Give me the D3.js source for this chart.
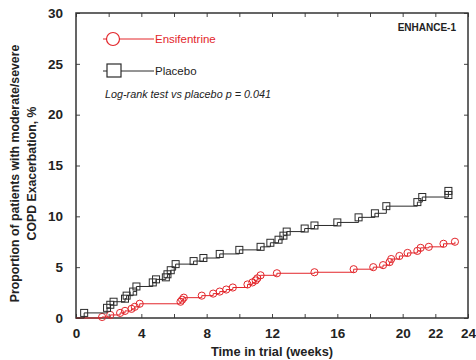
<!DOCTYPE html>
<html>
<head>
<meta charset="utf-8">
<script src="https://cdn.jsdelivr.net/npm/d3@7"></script>
<style>
body{margin:0;background:#fff;}
text{font-family:"Liberation Sans",Arial,sans-serif;}
</style>
</head>
<body>
<div id="chart"></div>
<script>
// data (weeks, %)
var placeboT = [0.5,1.9,2.1,2.3,3.0,3.1,3.5,3.7,4.7,4.9,5.5,5.6,5.8,6.1,7.2,7.8,8.8,10.0,11.3,11.9,12.4,12.7,12.9,14.0,14.6,16.0,17.3,18.3,19.0,20.9,21.2,22.8,22.8];
var placeboV = [0.5,1.0,1.3,1.6,1.9,2.2,2.6,3.1,3.5,3.8,4.0,4.3,4.7,5.3,5.6,5.9,6.3,6.7,7.0,7.4,7.7,8.1,8.5,8.8,9.1,9.4,9.9,10.3,11.0,11.4,11.9,12.1,12.5];
var ensT = [1.6,2.1,2.7,3.0,3.4,3.6,3.9,6.4,6.5,6.6,7.7,8.4,8.8,9.2,9.6,10.5,10.8,11.0,11.1,11.3,12.3,14.6,17.0,18.2,18.8,19.2,19.3,19.8,20.3,20.9,21.1,21.6,22.5,23.2];
var ensV = [0.1,0.3,0.5,0.7,0.9,1.1,1.4,1.6,1.8,2.0,2.2,2.4,2.6,2.8,3.0,3.3,3.5,3.7,3.9,4.2,4.4,4.5,4.8,5.0,5.2,5.5,5.8,6.1,6.4,6.6,6.9,7.0,7.3,7.5];
var xTicks = [0,2,4,6,8,10,12,14,16,18,20,22,24];
var xLabels = [0,4,8,12,16,20,22,24];
var yTicks = [0,5,10,15,20,25,30];

var red = "#e3262b", black = "#2b2b2b";

var margin = {top:13, right:8, bottom:42, left:76},
	width = 476 - margin.left - margin.right,
	height = 360 - margin.top - margin.bottom;

var x = d3.scaleLinear().domain([0,24]).range([0,width]);
var y = d3.scaleLinear().domain([0,30]).range([height,0]);

var svg = d3.select("#chart").append("svg")
	.attr("width",476).attr("height",360)
	.append("g")
	.attr("transform","translate(" + margin.left + "," + margin.top + ")");

// axes: ticks pointing inward, labels only on some
svg.append("g").attr("transform","translate(0," + height + ")")
	.call(d3.axisBottom(x).tickValues(xTicks).tickSizeInner(-4).tickSizeOuter(0)
		.tickFormat(function(d){ return xLabels.indexOf(d) >= 0 ? d : ""; }).tickPadding(10))
	.call(function(g){ g.select(".domain").remove(); });
svg.append("g")
	.call(d3.axisTop(x).tickValues(xTicks).tickSizeInner(-4).tickSizeOuter(0).tickFormat(""))
	.call(function(g){ g.select(".domain").remove(); });
svg.append("g")
	.call(d3.axisLeft(y).tickValues(yTicks).tickSizeInner(-4).tickSizeOuter(0).tickPadding(13))
	.call(function(g){ g.select(".domain").remove(); });
svg.append("g").attr("transform","translate(" + width + ",0)")
	.call(d3.axisRight(y).tickValues(yTicks).tickSizeInner(-4).tickSizeOuter(0).tickFormat(""))
	.call(function(g){ g.select(".domain").remove(); });

svg.selectAll(".tick line").attr("stroke","#444").attr("stroke-width",1);
svg.selectAll(".tick text").attr("fill","#222").style("font-size","13.5px").style("font-weight","bold");

svg.append("rect").attr("width",width).attr("height",height)
	.attr("fill","none").attr("stroke","#333").attr("stroke-width",1.5);

// step curves
function drawSeries(ts, vs, color, shape){
	var pts = [[0,0]].concat(ts.map(function(t,i){ return [t, vs[i]]; }));
	svg.append("path").datum(pts)
		.attr("fill","none").attr("stroke",color).attr("stroke-width",1)
		.attr("d", d3.line().x(function(d){return x(d[0]);}).y(function(d){return y(d[1]);}).curve(d3.curveStepAfter));
	var m = svg.append("g").selectAll("m").data(pts.slice(1)).enter();
	if(shape == "circle"){
		m.append("circle").attr("cx",function(d){return x(d[0]);}).attr("cy",function(d){return y(d[1]);})
			.attr("r",3.6).attr("fill","none").attr("stroke",color).attr("stroke-width",1);
	} else {
		m.append("rect").attr("x",function(d){return x(d[0])-3.5;}).attr("y",function(d){return y(d[1])-3.5;})
			.attr("width",7).attr("height",7).attr("fill","none").attr("stroke",color).attr("stroke-width",1);
	}
}
drawSeries(ensT, ensV, red, "circle");
drawSeries(placeboT, placeboV, black, "square");

// legend
var lg = svg.append("g");
lg.append("line").attr("x1",27).attr("x2",78).attr("y1",26).attr("y2",26).attr("stroke",red);
lg.append("circle").attr("cx",37).attr("cy",26).attr("r",6.5).attr("fill","white").attr("stroke",red).attr("stroke-width",1.2);
lg.append("text").attr("x",79).attr("y",30).text("Ensifentrine").attr("fill",red).style("font-size","11.5px");
lg.append("line").attr("x1",27).attr("x2",78).attr("y1",58).attr("y2",58).attr("stroke",black);
lg.append("rect").attr("x",31).attr("y",51).attr("width",14).attr("height",13).attr("fill","white").attr("stroke",black).attr("stroke-width",1.2);
lg.append("text").attr("x",79).attr("y",62).text("Placebo").attr("fill","#222").style("font-size","11.5px");
lg.append("text").attr("x",29).attr("y",85).text("Log-rank test vs placebo p = 0.041")
	.attr("fill","#222").style("font-size","10.8px").style("font-style","italic");
lg.append("text").attr("x",width-12).attr("y",18).attr("text-anchor","end").text("ENHANCE-1")
	.attr("fill","#222").style("font-size","10px").style("font-weight","bold");

// axis titles
svg.append("text").attr("text-anchor","middle")
	.attr("transform","translate(" + (width/2) + "," + (height+38) + ")")
	.text("Time in trial (weeks)").style("font-weight","bold").style("font-size","12.8px").attr("fill","#222");
var yt = svg.append("text").attr("text-anchor","middle")
	.attr("transform","translate(" + (-57) + "," + (height/2+8) + ")rotate(-90)")
	.style("font-weight","bold").style("font-size","12.3px").attr("fill","#222");
yt.append("tspan").attr("x",0).attr("dy",0).text("Proportion of patients with moderate/severe");
yt.append("tspan").attr("x",0).attr("dy","1.35em").text("COPD Exacerbation, %");
</script>
</body>
</html>
